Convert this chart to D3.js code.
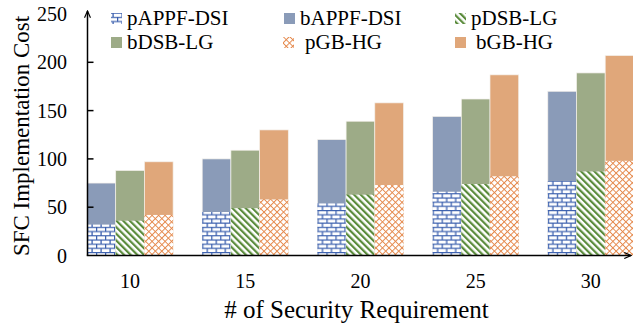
<!DOCTYPE html>
<html>
<head>
<meta charset="utf-8">
<script src="https://cdn.jsdelivr.net/npm/d3@7"></script>
<style>
  html, body { margin: 0; padding: 0; background: #fff; }
  svg { display: block; font-family: "Liberation Serif", "Times New Roman", serif; }
</style>
</head>
<body>
<svg id="chart" width="633" height="330"></svg>
<script>
// Implementation cost per number of security requirements
const categories = ["10", "15", "20", "25", "30"];
const methods = ["APPF-DSI", "DSB-LG", "GB-HG"];
// "p" = lower patterned part, "b" = full bar height
const pAPPF = [32, 45, 54, 66, 77];
const bAPPF = [75, 100, 120, 144, 170];
const pDSB  = [36, 49, 63, 74, 87];
const bDSB  = [88, 109, 139, 162, 189];
const pGB   = [42, 58, 73, 82, 98];
const bGB   = [97, 130, 158, 187, 207];
const yTicks = [0, 50, 100, 150, 200, 250];

const pSeries = [pAPPF, pDSB, pGB];
const bSeries = [bAPPF, bDSB, bGB];

const solid = ["#8a9bb8", "#9dab87", "#e0a77a"];
const patternId = ["brick", "stripe", "lattice"];

const svg = d3.select("#chart");
const defs = svg.append("defs");

// horizontal brick
const brick = defs.append("pattern").attr("id", "brick")
  .attr("patternUnits", "userSpaceOnUse").attr("width", 9).attr("height", 8.4);
brick.append("rect").attr("width", 9).attr("height", 8.4).attr("fill", "#fff");
brick.append("path")
  .attr("d", "M0,0.6H9 M0,4.8H9 M0.6,0.6V4.8 M5.1,4.8V8.4")
  .attr("stroke", "#3b60ae").attr("stroke-width", 1.3).attr("fill", "none");

// wide downward diagonal
const stripe = defs.append("pattern").attr("id", "stripe")
  .attr("patternUnits", "userSpaceOnUse").attr("width", 4.7).attr("height", 4.7)
  .attr("patternTransform", "rotate(-45)");
stripe.append("rect").attr("width", 4.7).attr("height", 4.7).attr("fill", "#fff");
stripe.append("rect").attr("width", 2.2).attr("height", 4.7).attr("fill", "#5a8b3b");

// diamond lattice
const lattice = defs.append("pattern").attr("id", "lattice")
  .attr("patternUnits", "userSpaceOnUse").attr("width", 4.6).attr("height", 4.6)
  .attr("patternTransform", "rotate(45)");
lattice.append("rect").attr("width", 4.6).attr("height", 4.6).attr("fill", "#fff");
lattice.append("path").attr("d", "M0,0.5H4.6 M0.5,0V4.6")
  .attr("stroke", "#e5894c").attr("stroke-width", 1).attr("fill", "none");

// arrow heads for the axes
defs.append("marker").attr("id", "arrow")
  .attr("viewBox", "0 0 10 10").attr("refX", 9).attr("refY", 5)
  .attr("markerWidth", 5).attr("markerHeight", 5).attr("orient", "auto")
  .append("path").attr("d", "M0,1 L9,5 L0,9").attr("fill", "none")
  .attr("stroke", "#000").attr("stroke-width", 1.6);

const x0 = 87.5, yBase = 255.5;
const x = d3.scaleBand().domain(categories).range([87, 633.9])
  .paddingInner(0.2526).paddingOuter(0);
const xs = d3.scaleBand().domain(methods).range([0, x.bandwidth()]);
const y = d3.scaleLinear().domain([0, 250]).range([yBase, 14]);

// bars
const groups = svg.append("g").selectAll("g").data(categories).join("g")
  .attr("transform", d => `translate(${x(d)},0)`);

groups.each(function (c, ci) {
  const g = d3.select(this);
  methods.forEach((m, mi) => {
    const bx = xs(m), bw = xs.bandwidth();
    const bv = bSeries[mi][ci], pv = pSeries[mi][ci];
    g.append("rect").attr("x", bx).attr("width", bw)
      .attr("y", y(bv)).attr("height", y(0) - y(bv))
      .attr("fill", solid[mi]).attr("stroke", "#f4f1ec").attr("stroke-width", 0.7);
    g.append("rect").attr("x", bx).attr("width", bw)
      .attr("y", y(pv)).attr("height", y(0) - y(pv))
      .attr("fill", `url(#${patternId[mi]})`);
  });
});

// y axis
const yAxis = svg.append("g");
yAxis.append("line").attr("x1", x0).attr("x2", x0).attr("y1", yBase).attr("y2", 11)
  .attr("stroke", "#000").attr("stroke-width", 1.5).attr("marker-end", "url(#arrow)");
yAxis.selectAll("line.tick").data(yTicks.filter(t => t > 0 && t < 250)).join("line")
  .attr("class", "tick").attr("x1", x0).attr("x2", x0 + 6)
  .attr("y1", d => y(d)).attr("y2", d => y(d))
  .attr("stroke", "#000").attr("stroke-width", 1.5);
yAxis.selectAll("text").data(yTicks).join("text")
  .attr("x", 67).attr("y", d => y(d)).attr("dy", "0.35em")
  .attr("text-anchor", "end").attr("font-size", 20).text(d => d);

// x axis
const xAxis = svg.append("g");
xAxis.append("line").attr("x1", x0 - 0.75).attr("x2", 631).attr("y1", yBase).attr("y2", yBase)
  .attr("stroke", "#000").attr("stroke-width", 1.5).attr("marker-end", "url(#arrow)");
xAxis.selectAll("text").data(categories).join("text")
  .attr("x", d => x(d) + x.bandwidth() / 2).attr("y", 288)
  .attr("text-anchor", "middle").attr("font-size", 20).text(d => d);

// axis titles
svg.append("text").attr("x", 356.5).attr("y", 318).attr("text-anchor", "middle")
  .attr("font-size", 25).text("# of Security Requirement");
svg.append("text").attr("transform", "translate(29,136) rotate(-90)")
  .attr("text-anchor", "middle").attr("font-size", 23).text("SFC Implementation Cost");

// legend
const legendItems = [
  { name: "pAPPF-DSI", fill: "url(#brick)", sx: 111, tx: 127, row: 0 },
  { name: "bAPPF-DSI", fill: solid[0], sx: 284, tx: 300, row: 0 },
  { name: "pDSB-LG", fill: "url(#stripe)", sx: 455, tx: 471, row: 0 },
  { name: "bDSB-LG", fill: solid[1], sx: 111, tx: 127, row: 1 },
  { name: "pGB-HG", fill: "url(#lattice)", sx: 283, tx: 305, row: 1 },
  { name: "bGB-HG", fill: solid[2], sx: 455, tx: 476, row: 1 }
];
const legend = svg.append("g").selectAll("g").data(legendItems).join("g");
legend.append("rect").attr("x", d => d.sx).attr("y", d => 13 + d.row * 24)
  .attr("width", 11).attr("height", 11).attr("fill", d => d.fill);
legend.append("text").attr("x", d => d.tx).attr("y", d => 25 + d.row * 23.5)
  .attr("font-size", 21).text(d => d.name);
</script>
</body>
</html>
